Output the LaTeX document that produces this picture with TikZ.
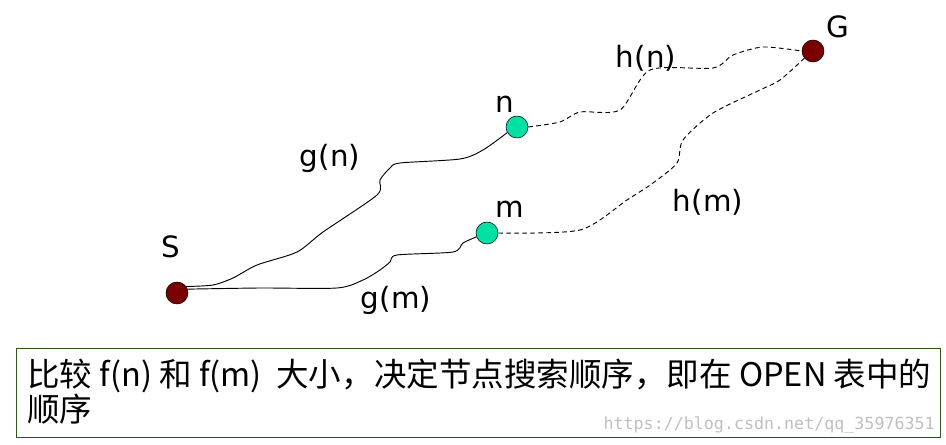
\documentclass[tikz,border=0pt]{standalone}
\usepackage{fontspec}
\setmainfont{DejaVu Sans}
\newfontfamily\cjk{Noto Sans CJK SC}
\newfontfamily\wmfont{DejaVu Sans Mono}
\usepackage{tikz}
\usetikzlibrary{positioning}
\definecolor{startred}{RGB}{122,0,0}
\definecolor{midgreen}{RGB}{0,224,164}
\definecolor{boxgreen}{RGB}{45,85,30}

\begin{document}
\begin{tikzpicture}[
    x=0.75pt, y=-0.75pt,
    endpt/.style={circle, draw=black, thin, fill=startred, minimum size=16.5pt, inner sep=0pt},
    midpt/.style={circle, draw=black, thin, fill=midgreen, minimum size=16.5pt, inner sep=0pt},
    lbl/.style={font=\fontsize{22}{26}\selectfont, inner sep=0pt},
    gpath/.style={line width=0.7pt, smooth, tension=0.45},
    hpath/.style={line width=0.7pt, dash pattern=on 3.5pt off 2.5pt, smooth, tension=0.45},
    msgbox/.style={draw=boxgreen, line width=0.8pt, anchor=north west, minimum width=693pt, minimum height=66.75pt, inner sep=0pt},
    msgline/.style={anchor=base west, inner sep=0pt, font=\cjk\fontsize{24.4}{26}\selectfont}
  ]
    \useasboundingbox (0,0) rectangle (946,445);

    \node[endpt] (S) at (177,293) {};
    \node[endpt] (G) at (813,51) {};
    \node[midpt] (n) at (517,127) {};
    \node[midpt] (m) at (487,233) {};

    \node[lbl] (Slbl) at (171,247) {S};
    \node[lbl] (Glbl) at (838,27) {G};
    \node[lbl] (nlbl) at (505,104) {n};
    \node[lbl] (mlbl) at (510,209) {m};
    \node[lbl] (gnlbl) at (330,158) {g(n)};
    \node[lbl] (gmlbl) at (396,300) {g(m)};
    \node[lbl] (hnlbl) at (646,58) {h(n)};
    \node[lbl] (hmlbl) at (708,202) {h(m)};

    \draw[gpath] plot coordinates {(S.35) (213,285) (233,278) (257,265) (297,252) (323,232) (377,195) (380,180) (390,168) (400,163) (460,159) (483,150) (n.210)};
    \draw[gpath] plot coordinates {(S.20) (260,288) (337,288) (363,280) (380,270) (390,262) (397,255) (453,252) (463,243) (m.200)};
    \draw[hpath] plot coordinates {(n.east) (560,122) (580,112) (620,110) (650,70) (713,68) (733,55) (763,47) (G.west)};
    \draw[hpath] plot coordinates {(m.east) (580,230) (627,200) (653,183) (677,163) (683,140) (713,113) (760,90) (780,80) (G.220)};

    \node[msgbox] (msg) at (16,348) {};
    \node[msgline] (line1) at (27,386) {比较 f(n) 和 f(m)\ \ 大小，决定节点搜索顺序，即在 OPEN 表中的};
    \node[msgline] (line2) at (27,421) {顺序};
    \node[font=\wmfont\fontsize{12.5}{14}\selectfont, text=black!25, anchor=east, inner sep=0pt] (wm) at (935,425) {https://blog.csdn.net/qq\_35976351};
\end{tikzpicture}
\end{document}
